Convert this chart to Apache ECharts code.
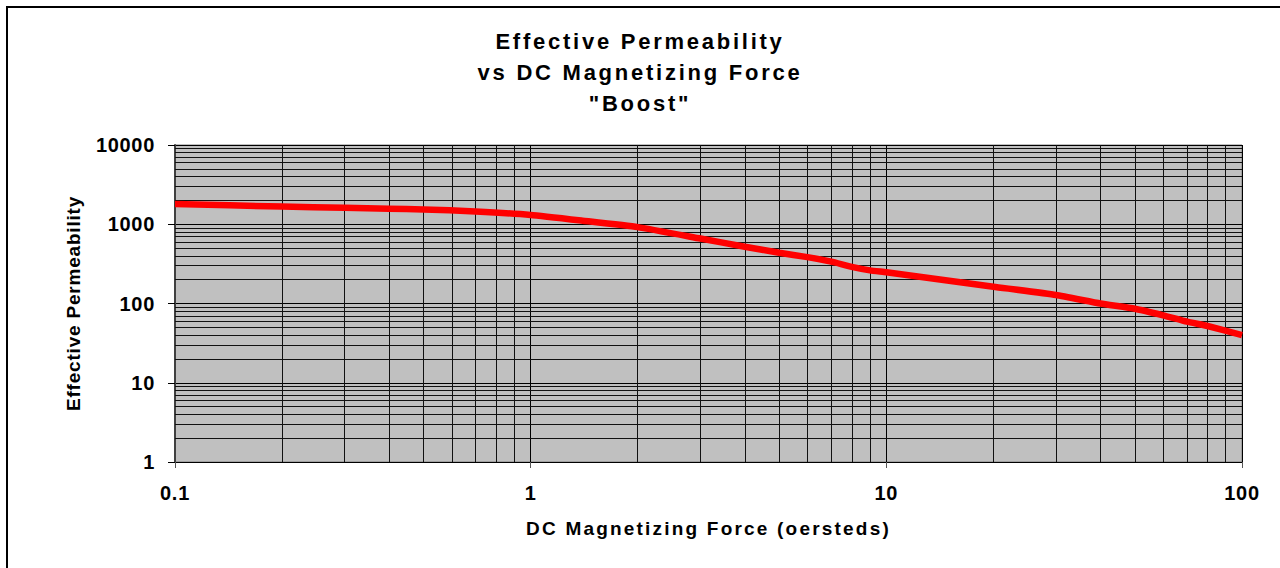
<!DOCTYPE html>
<html>
<head>
<meta charset="utf-8">
<title>Effective Permeability vs DC Magnetizing Force</title>
<script src="https://cdn.jsdelivr.net/npm/echarts@6/dist/echarts.min.js"></script>
<style>
  html, body { margin: 0; padding: 0; background: #fff; }
  #chart { width: 1280px; height: 568px; }
</style>
</head>
<body>
<div id="chart"></div>
<script>
// DC magnetizing force (oersteds) and effective permeability for the "Boost" material
const magnetizingForce = [0.1, 0.2, 0.3, 0.4, 0.5, 0.7, 1, 1.4, 2, 3, 4, 5, 6, 7, 8, 9, 10, 20, 30, 40, 50, 60, 70, 80, 100];
const permeability     = [1800, 1670, 1620, 1570, 1540, 1450, 1310, 1110, 920, 660, 520, 436, 385, 337, 290, 262, 248, 163, 128, 100, 86, 71, 59, 52, 40];

// Decade tick labels on both log axes
const xTickLabels = ['0.1', '1', '10', '100'];
const yTickLabels = ['1', '10', '100', '1000', '10000'];
const xDecades = [0.1, 1, 10];
const yDecades = [1, 10, 100, 1000];
const mantissas = [2, 3, 4, 5, 6, 7, 8, 9];

const TITLE_LINES = ['Effective Permeability', 'vs DC Magnetizing Force', '"Boost"'];
const X_NAME = 'DC Magnetizing Force (oersteds)';
const Y_NAME = 'Effective Permeability';

const FONT = '"Liberation Sans", Arial, sans-serif';

// Minor grid lines at 2..9 of each decade
const minorLines = [];
xDecades.forEach(d => mantissas.forEach(m => minorLines.push({ xAxis: +(d * m).toPrecision(6) })));
yDecades.forEach(d => mantissas.forEach(m => minorLines.push({ yAxis: d * m })));

function labelFor(list, v) {
  const exp = Math.round(Math.log10(v));
  const hit = list.find(s => Math.round(Math.log10(parseFloat(s))) === exp);
  return hit || '';
}

const chart = echarts.init(document.getElementById('chart'), null, { renderer: 'svg' });

chart.setOption({
  animation: false,
  title: {
    text: TITLE_LINES.join('\n'),
    left: 'center',
    top: 21,
    textStyle: { fontFamily: FONT, fontWeight: 'bold', fontSize: 22, lineHeight: 31, color: '#000' }
  },
  graphic: [{
    type: 'rect',
    shape: { x: 7, y: 7, width: 1300, height: 600 },
    style: { fill: 'none', stroke: '#000', lineWidth: 2 },
    silent: true,
    z: 100
  }],
  grid: {
    left: 175, right: 38, top: 145, bottom: 106,
    show: true,
    backgroundColor: '#c0c0c0',
    borderColor: '#808080',
    borderWidth: 1
  },
  xAxis: {
    type: 'log',
    logBase: 10,
    min: 0.1,
    max: 100,
    name: X_NAME,
    nameLocation: 'middle',
    nameGap: 57,
    nameTextStyle: { fontFamily: FONT, fontWeight: 'bold', fontSize: 19, color: '#000' },
    axisLine: { show: true, onZero: false, lineStyle: { color: '#000', width: 1 } },
    axisTick: { show: true, length: 6, lineStyle: { color: '#555', width: 1 } },
    axisLabel: {
      margin: 21,
      fontFamily: FONT, fontWeight: 'bold', fontSize: 20, color: '#000',
      formatter: v => labelFor(xTickLabels, v)
    },
    splitLine: { show: true, lineStyle: { color: '#000', width: 1 } },
    minorTick: { show: false },
    minorSplitLine: { show: false }
  },
  yAxis: {
    type: 'log',
    logBase: 10,
    min: 1,
    max: 10000,
    name: Y_NAME,
    nameLocation: 'middle',
    nameGap: 92,
    nameTextStyle: { fontFamily: FONT, fontWeight: 'bold', fontSize: 19, color: '#000' },
    axisLine: { show: true, onZero: false, lineStyle: { color: '#404040', width: 2 } },
    axisTick: { show: true, length: 7, lineStyle: { color: '#000', width: 1 } },
    axisLabel: {
      margin: 20,
      fontFamily: FONT, fontWeight: 'bold', fontSize: 20, color: '#000',
      formatter: v => labelFor(yTickLabels, v)
    },
    splitLine: { show: true, lineStyle: { color: '#000', width: 1 } },
    minorTick: { show: false },
    minorSplitLine: { show: false }
  },
  series: [
    {
      name: 'grid',
      type: 'line',
      data: [],
      silent: true,
      z: 1,
      markLine: {
        silent: true,
        symbol: 'none',
        animation: false,
        label: { show: false },
        lineStyle: { color: '#111', width: 1, type: 'solid' },
        emphasis: { disabled: true },
        data: minorLines
      }
    },
    {
      name: 'Effective Permeability',
      type: 'line',
      z: 5,
      data: magnetizingForce.map((x, i) => [x, permeability[i]]),
      showSymbol: false,
      symbol: 'none',
      smooth: 0.15,
      lineStyle: { color: '#ff0000', width: 6.5, cap: 'butt', join: 'round' }
    }
  ]
});

// Wider character tracking for the bold chart texts
function applyTracking() {
  document.querySelectorAll('#chart svg text').forEach(el => {
    const t = el.textContent.trim();
    const top = el.getBoundingClientRect().top;
    let ls = null;
    if (TITLE_LINES.includes(t) && top < 130) ls = 2.75;
    else if (t === X_NAME) ls = 2.2;
    else if (t === Y_NAME) ls = 0.8;
    else if (/^[0-9.]+$/.test(t)) ls = 0.7;
    if (ls !== null) el.setAttribute('letter-spacing', String(ls));
  });
}
applyTracking();
chart.on('finished', applyTracking);
</script>
</body>
</html>
